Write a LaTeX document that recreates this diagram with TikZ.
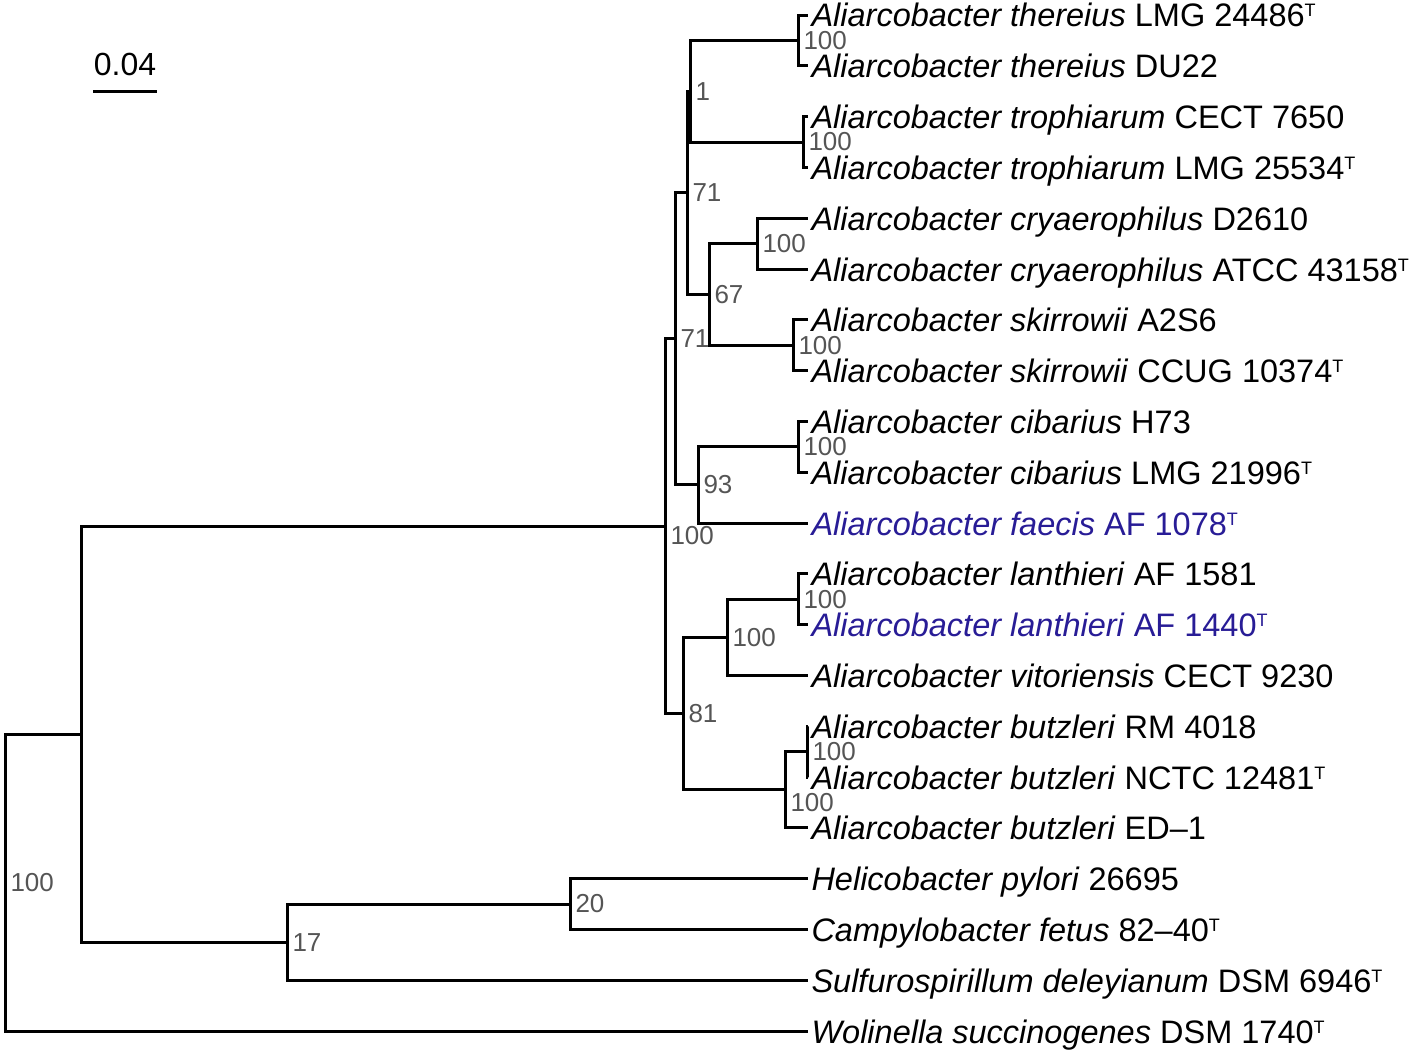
\documentclass[tikz,border=0pt]{standalone}
\usepackage{fontspec}
\setmainfont{Liberation Sans}
\definecolor{bootgray}{RGB}{85,85,85}
\definecolor{newsp}{RGB}{40,28,150}
\newcommand\typestr{\raisebox{10pt}{\fontsize{18}{18}\selectfont T}}
\begin{document}
\begin{tikzpicture}[x=1pt,y=-1pt, line width=3pt,
	tiplab/.style={anchor=base west, inner sep=0pt, xshift=2pt, yshift=-12pt, font=\fontsize{32.5}{40}\selectfont},
	boot/.style={anchor=west, inner sep=0pt, xshift=4pt, text=bootgray, font=\fontsize{26}{30}\selectfont}]
	\def\tipx{808} \def\ystep{50.8} % tip column and row spacing
	\useasboundingbox (0,0) rectangle (1416,1052);
	% tips
	\foreach \i/\col/\txt in {
		0/black/{\textit{Aliarcobacter thereius} LMG 24486\typestr},
		1/black/{\textit{Aliarcobacter thereius} DU22},
		2/black/{\textit{Aliarcobacter trophiarum} CECT 7650},
		3/black/{\textit{Aliarcobacter trophiarum} LMG 25534\typestr},
		4/black/{\textit{Aliarcobacter cryaerophilus} D2610},
		5/black/{\textit{Aliarcobacter cryaerophilus} ATCC 43158\typestr},
		6/black/{\textit{Aliarcobacter skirrowii} A2S6},
		7/black/{\textit{Aliarcobacter skirrowii} CCUG 10374\typestr},
		8/black/{\textit{Aliarcobacter cibarius} H73},
		9/black/{\textit{Aliarcobacter cibarius} LMG 21996\typestr},
		10/newsp/{\textit{Aliarcobacter faecis} AF 1078\typestr},
		11/black/{\textit{Aliarcobacter lanthieri} AF 1581},
		12/newsp/{\textit{Aliarcobacter lanthieri} AF 1440\typestr},
		13/black/{\textit{Aliarcobacter vitoriensis} CECT 9230},
		14/black/{\textit{Aliarcobacter butzleri} RM 4018},
		15/black/{\textit{Aliarcobacter butzleri} NCTC 12481\typestr},
		16/black/{\textit{Aliarcobacter butzleri} ED–1},
		17/black/{\textit{Helicobacter pylori} 26695},
		18/black/{\textit{Campylobacter fetus} 82–40\typestr},
		19/black/{\textit{Sulfurospirillum deleyianum} DSM 6946\typestr},
		20/black/{\textit{Wolinella succinogenes} DSM 1740\typestr}}
	{\coordinate (t\i) at (\tipx,{15+\ystep*\i});
		\node[tiplab,text=\col] (l\i) at (t\i) {\txt};}
	% internal nodes
	\coordinate (nThe) at (798,40.4);
	\coordinate (nTro) at (803,142);
	\coordinate (nOne) at (690,91.2);
	\coordinate (nCry) at (757,243.6);
	\coordinate (nSki) at (793,345.2);
	\coordinate (nSixSeven) at (709,294.4);
	\coordinate (nSevenOneA) at (687,192.8);
	\coordinate (nCib) at (798,446.8);
	\coordinate (nNineThree) at (698,484.9);
	\coordinate (nSevenOneB) at (675,338.9);
	\coordinate (nLan) at (798,599.2);
	\coordinate (nLanVit) at (727,637.3);
	\coordinate (nButP) at (807,751.6);
	\coordinate (nBut) at (785,789.7);
	\coordinate (nEightOne) at (683,713.5);
	\coordinate (nAli) at (665,526.2);
	\coordinate (nTwenty) at (570,904);
	\coordinate (nSeventeen) at (287,942.1);
	\coordinate (nOut) at (81,734.2);
	\coordinate (nRoot) at (5,882.6);
	% branches
	\foreach \p/\c in {nThe/t0, nThe/t1, nTro/t2, nTro/t3, nOne/nThe, nOne/nTro,
		nCry/t4, nCry/t5, nSki/t6, nSki/t7, nSixSeven/nCry, nSixSeven/nSki,
		nSevenOneA/nOne, nSevenOneA/nSixSeven, nCib/t8, nCib/t9,
		nNineThree/nCib, nNineThree/t10, nSevenOneB/nSevenOneA, nSevenOneB/nNineThree,
		nLan/t11, nLan/t12, nLanVit/nLan, nLanVit/t13, nButP/t14, nButP/t15,
		nBut/nButP, nBut/t16, nEightOne/nLanVit, nEightOne/nBut,
		nAli/nSevenOneB, nAli/nEightOne, nTwenty/t17, nTwenty/t18,
		nSeventeen/nTwenty, nSeventeen/t19, nOut/nAli, nOut/nSeventeen,
		nRoot/nOut, nRoot/t20}
	\draw (\p) |- (\c);
	% bootstrap values
	\foreach \n/\v in {nThe/100, nTro/100, nOne/1, nCry/100, nSki/100, nSixSeven/67,
		nSevenOneA/71, nCib/100, nNineThree/93, nSevenOneB/71, nLan/100, nLanVit/100,
		nButP/100, nEightOne/81, nTwenty/20, nSeventeen/17, nRoot/100}
	\node[boot] (b\n) at (\n) {\v};
	\node[boot, yshift=-9pt] (bnAli) at (nAli) {100};
	\node[boot, yshift=-13pt] (bnBut) at (nBut) {100};
	% scale bar
	\coordinate (sbL) at (93,91); \coordinate (sbR) at (157,91);
	\draw (sbL) -- (sbR) node[midway, anchor=base, yshift=16pt, inner sep=0pt, font=\fontsize{32}{38}\selectfont] (sbLab) {0.04};
\end{tikzpicture}
\end{document}
